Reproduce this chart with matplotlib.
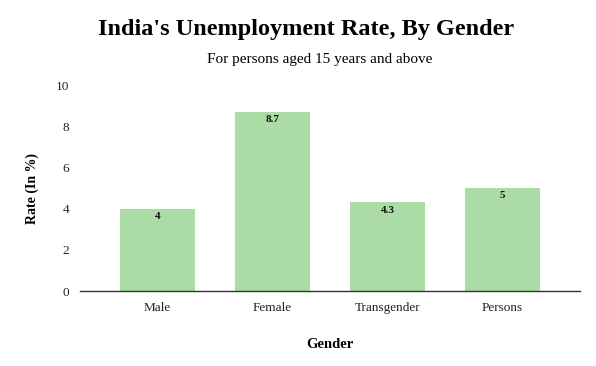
import matplotlib
matplotlib.use("Agg")
import matplotlib.pyplot as plt

# data
genders = ["Male", "Female", "Transgender", "Persons"]
rates = [4, 8.7, 4.3, 5]
y_ticks = [0, 2, 4, 6, 8, 10]

plt.rcParams["font.family"] = ["Liberation Serif", "DejaVu Serif"]

fig = plt.figure(figsize=(5.96, 3.66), dpi=100)
ax = fig.add_axes([80 / 596, 75 / 366, 500 / 596, 206 / 366])

x = range(len(genders))
bars = ax.bar(x, rates, width=0.65, color="#acdca5", zorder=2)

for b, v in zip(bars, rates):
    ax.text(b.get_x() + b.get_width() / 2, v - 0.15, f"{v:g}",
            ha="center", va="top", fontsize=8, fontweight="bold", color="#111111")

ax.set_xlim(-0.674, 3.674)
ax.set_ylim(0, 10)
ax.set_yticks(y_ticks)
ax.set_xticks(list(x))
ax.set_xticklabels(genders)
ax.tick_params(axis="both", length=0, labelsize=9.5, colors="#222222")
ax.tick_params(axis="x", pad=8)
ax.tick_params(axis="y", pad=8)

for s in ["top", "right", "left"]:
    ax.spines[s].set_visible(False)
ax.spines["bottom"].set_color("#333333")
ax.spines["bottom"].set_linewidth(1)

ax.set_ylabel("Rate (In %)", fontsize=10, fontweight="bold", labelpad=12)
ax.set_xlabel("Gender", fontsize=10.5, fontweight="bold", labelpad=17)

fig.text(306 / 596, 1 - 30 / 366, "India's Unemployment Rate, By Gender",
         ha="center", va="center", fontsize=17.5, fontweight="bold")
fig.text(320 / 596, 1 - 59 / 366, "For persons aged 15 years and above",
         ha="center", va="center", fontsize=11)

fig.savefig("out.png", dpi=100)
